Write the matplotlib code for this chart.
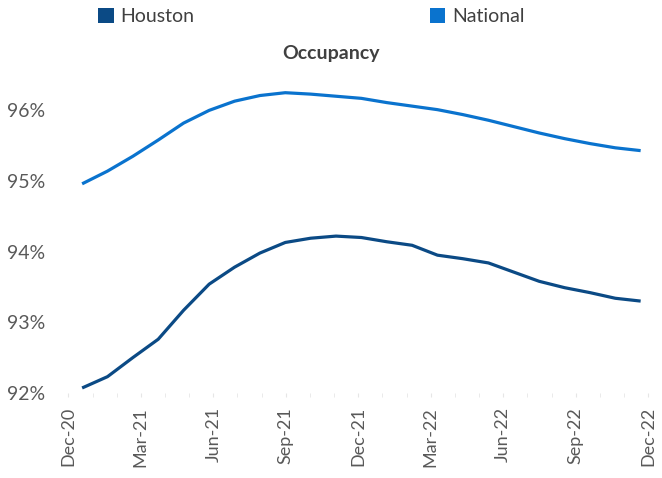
import matplotlib
matplotlib.use("Agg")
import matplotlib.pyplot as plt
from matplotlib.patches import Patch
from matplotlib.ticker import FuncFormatter

plt.rcParams['font.family'] = ['Lato', 'DejaVu Sans']

# Position of each observation in months after Dec-20 (date axis)
months = [0.57, 1.62, 2.67, 3.72, 4.77, 5.83, 6.88, 7.93, 8.98, 10.03, 11.08, 12.13,
          13.18, 14.23, 15.28, 16.33, 17.39, 18.44, 19.49, 20.54, 21.59, 22.64, 23.69]
houston = [92.07, 92.23, 92.50, 92.76, 93.17, 93.54, 93.78, 93.98, 94.13, 94.19,
           94.22, 94.20, 94.14, 94.09, 93.95, 93.90, 93.84, 93.71, 93.58, 93.49,
           93.42, 93.34, 93.30]
national = [94.96, 95.14, 95.35, 95.58, 95.82, 96.00, 96.13, 96.21, 96.25, 96.23,
            96.20, 96.17, 96.11, 96.06, 96.01, 95.94, 95.86, 95.77, 95.68, 95.60,
            95.53, 95.47, 95.43]
tick_pos = [0, 3, 6, 9, 12, 15, 18, 21, 24]
tick_labels = ['Dec-20', 'Mar-21', 'Jun-21', 'Sep-21', 'Dec-21',
               'Mar-22', 'Jun-22', 'Sep-22', 'Dec-22']
y_ticks = [92, 93, 94, 95, 96]

c_hou = '#0B4A85'
c_nat = '#0A73CE'

fig = plt.figure(figsize=(6.62, 4.78), dpi=100)
ax = fig.add_axes([0.085, 0.178, 0.905, 0.665])

ax.plot(months, houston, color=c_hou, lw=2.3, solid_capstyle='butt')
ax.plot(months, national, color=c_nat, lw=2.3, solid_capstyle='butt')

ax.set_xlim(-0.5, 24.3)
ax.set_ylim(92, 96.5)
ax.set_xticks(tick_pos)
ax.set_xticklabels(tick_labels, rotation=90, color='#595959', fontsize=13)
ax.set_xticks(range(25), minor=True)
ax.set_yticks(y_ticks)
ax.yaxis.set_major_formatter(FuncFormatter(lambda v, p: f"{v:.0f}%"))
ax.tick_params(axis='y', length=0, pad=8, labelcolor='#595959', labelsize=14)
ax.tick_params(axis='x', which='both', length=3, color='#e6e6e6', pad=7)
for s in ax.spines.values():
    s.set_visible(False)

fig.text(0.5, 1 - 53 / 478, 'Occupancy', ha='center', va='center',
         fontsize=14, fontweight='bold', color='#404040')

handles = [Patch(facecolor=c_hou, label='Houston'), Patch(facecolor=c_nat, label='National')]
fig.legend(handles=handles, loc='upper left', bbox_to_anchor=(96 / 662, 1 - 6 / 478), ncol=2,
           frameon=False, fontsize=14, handlelength=0.8, handleheight=0.8,
           handletextpad=0.35, columnspacing=12.1, borderpad=0.1, borderaxespad=0,
           labelcolor='#404040')

fig.savefig('out.png', dpi=100)
